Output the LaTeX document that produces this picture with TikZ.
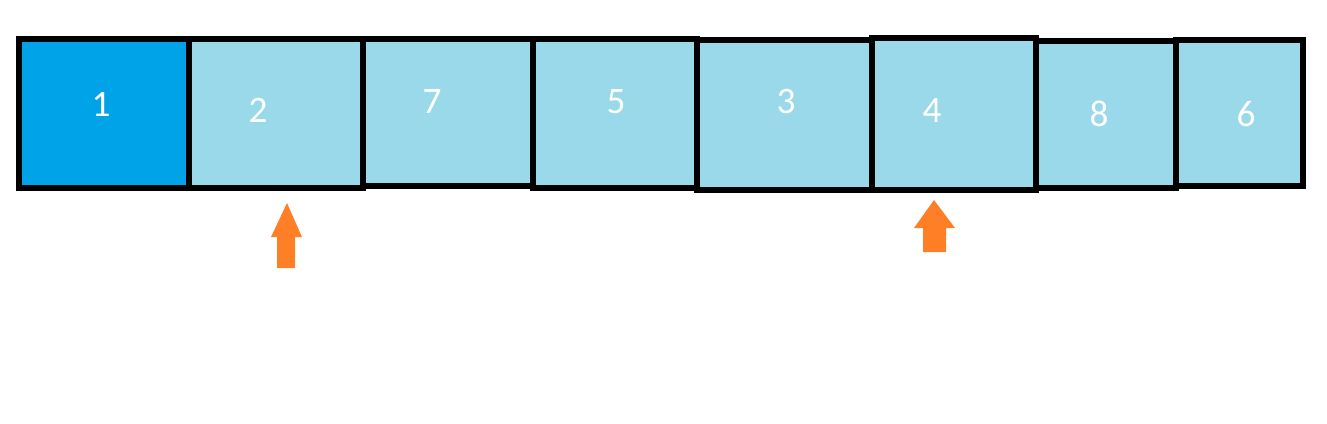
\documentclass[tikz,border=0pt]{standalone}
\usepackage{fontspec}
\setmainfont{Carlito}
\definecolor{darkcell}{HTML}{00A2E8}
\definecolor{lightcell}{HTML}{99D9EA}
\definecolor{arroworange}{HTML}{FF7F27}
\begin{document}
\begin{tikzpicture}[x=0.75pt,y=-0.75pt,
  cell/.style={draw=black,line width=4.5pt,fill=lightcell},
  digit/.style={text=white,font=\fontsize{28}{32}\selectfont,inner sep=0pt},
  uparrow/.style={fill=arroworange,draw=none}]
\useasboundingbox (0,0) rectangle (1327,424);
% cells
\path[cell] (189,39) rectangle (363,188);
\path[cell] (363,39) rectangle (533,186);
\path[cell] (533,39) rectangle (697,188);
\path[cell] (697,40) rectangle (872,190);
\path[cell] (872,38) rectangle (1036,190);
\path[cell] (1036,41) rectangle (1176,188);
\path[cell] (1176,40) rectangle (1303,186);
\path[cell,fill=darkcell] (19,39) rectangle (189,188);
% labels
\node[digit] (t1) at (101,104) {1};
\node[digit] (t2) at (258,110) {2};
\node[digit] (t7) at (432,102) {7};
\node[digit] (t5) at (616,102) {5};
\node[digit] (t3) at (786,102) {3};
\node[digit] (t4) at (932,111) {4};
\node[digit] (t8) at (1099,114) {8};
\node[digit] (t6) at (1246,114) {6};
% arrows
\path[uparrow] (287,203) -- (302,237) -- (295,237) -- (295,268) -- (277,268) -- (277,237) -- (271,237) -- cycle;
\path[uparrow] (934,200) -- (955,228) -- (946,228) -- (946,252) -- (923,252) -- (923,228) -- (914,228) -- cycle;
\end{tikzpicture}
\end{document}
